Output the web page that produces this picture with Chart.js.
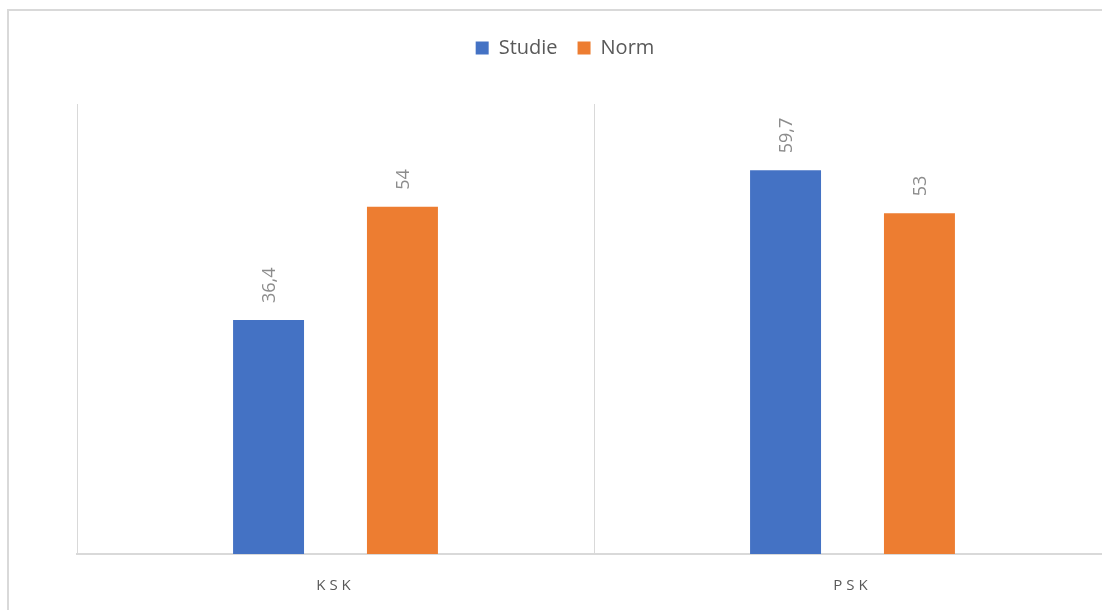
<!DOCTYPE html>
<html>
<head>
<meta charset="utf-8">
<script src="https://cdn.jsdelivr.net/npm/chart.js@4.4.0/dist/chart.umd.min.js"></script>
<style>
  html, body { margin: 0; padding: 0; background: #fff; overflow: hidden; }
  #frame { position: absolute; left: 7px; top: 9px; width: 1200px; height: 700px; border: 2px solid #d9d9d9; }
  #wrap { position: absolute; left: 0; top: 0; width: 1130px; height: 618px; }
</style>
</head>
<body>
<div id="frame"></div>
<div id="wrap"><canvas id="myChart" width="1130" height="618"></canvas></div>
<script>
var categories = ["KSK", "PSK"];
var studie = [36.4, 59.7];
var norm = [54, 53];

function formatValue(v) {
  return String(v).replace(".", ",");
}

// value labels written upright above each bar
var barLabels = {
  id: "barLabels",
  afterDatasetsDraw: function(chart) {
    var ctx = chart.ctx;
    chart.data.datasets.forEach(function(ds, i) {
      var meta = chart.getDatasetMeta(i);
      meta.data.forEach(function(bar, j) {
        ctx.save();
        ctx.translate(bar.x + 1, bar.y - 17);
        ctx.rotate(-Math.PI / 2);
        ctx.font = "18px 'Open Sans'";
        ctx.fillStyle = "#8c8c8c";
        ctx.textAlign = "left";
        ctx.textBaseline = "middle";
        ctx.fillText(formatValue(ds.data[j]), 0, 0);
        ctx.restore();
      });
    });
  }
};

function renderChart() {
  var ctx = document.getElementById("myChart").getContext("2d");
  var myChart = new Chart(ctx, {
    type: "bar",
    data: {
      labels: categories,
      datasets: [
        { label: "Studie", data: studie, backgroundColor: "#4472C4" },
        { label: "Norm", data: norm, backgroundColor: "#ED7D31" }
      ]
    },
    options: {
      responsive: false,
      animation: false,
      categoryPercentage: 0.518,
      barPercentage: 0.53,
      layout: { padding: { left: 19, right: 19, top: 18, bottom: 0 } },
      plugins: {
        tooltip: { enabled: false },
        legend: {
          position: "top",
          labels: {
            boxWidth: 13,
            boxHeight: 13,
            padding: 20,
            color: "#595959",
            font: { family: "'Open Sans'", size: 20 }
          }
        }
      },
      scales: {
        x: {
          grid: { color: "#d9d9d9", lineWidth: 1, drawTicks: false },
          border: { color: "#d9d9d9", width: 2 },
          ticks: { color: "#595959", padding: 23, font: { family: "'Open Sans'", size: 15 } }
        },
        y: {
          min: 0,
          max: 70,
          ticks: { display: false },
          grid: { display: false },
          border: { display: false },
          afterFit: function(scale) { scale.width = 58; }
        }
      }
    },
    plugins: [barLabels]
  });

  // spread the category letters like the original axis
  var xs = myChart.scales.x;
  var origLabels = xs.drawLabels.bind(xs);
  xs.drawLabels = function(area) {
    myChart.ctx.save();
    myChart.ctx.letterSpacing = "4px";
    origLabels(area);
    myChart.ctx.restore();
  };

  // leave room under the legend down to the plot
  var lg = myChart.legend;
  var origFit = lg.fit.bind(lg);
  lg.fit = function() {
    origFit();
    this.height += 36;
  };
  myChart.update();
}

renderChart();
</script>
</body>
</html>
